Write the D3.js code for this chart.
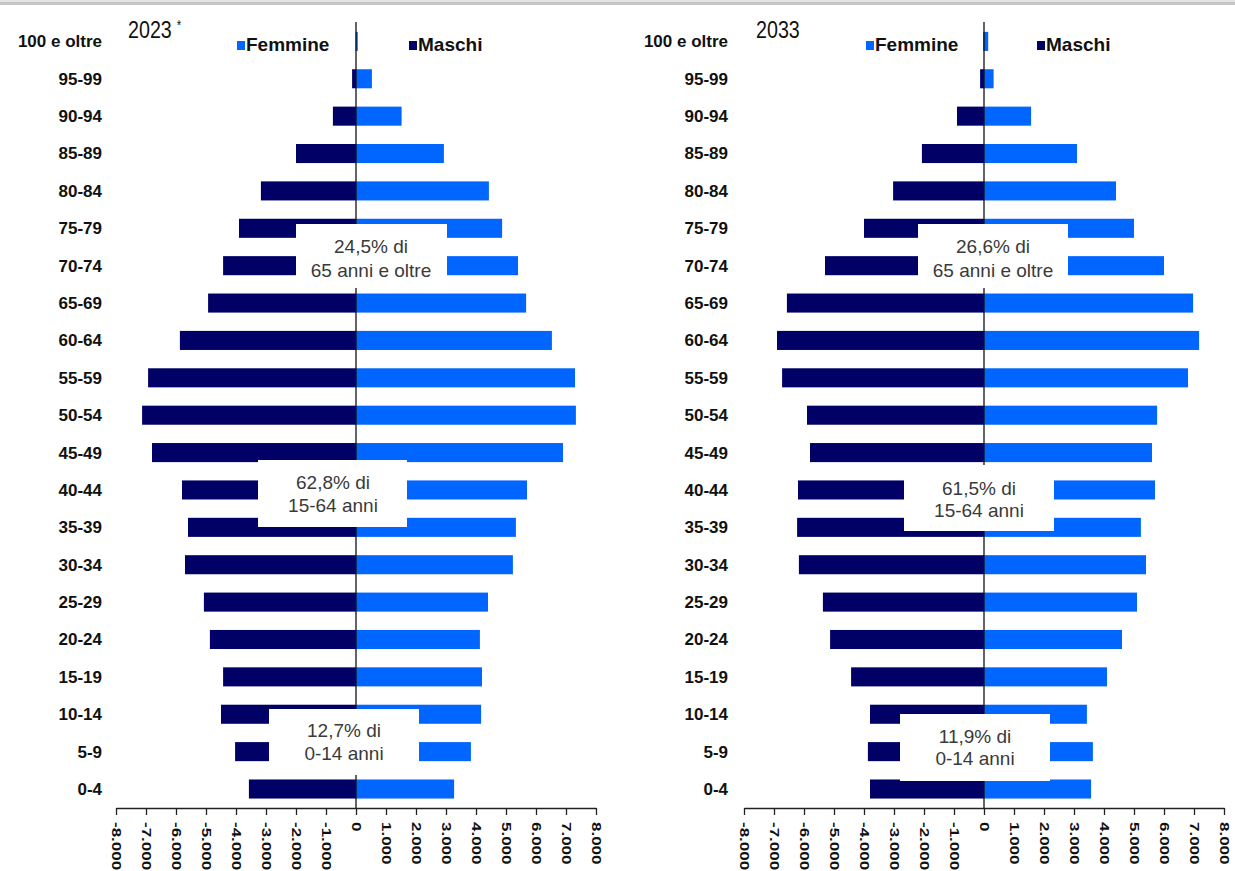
<!DOCTYPE html>
<html>
<head>
<meta charset="utf-8">
<script src="https://cdn.jsdelivr.net/npm/d3@7"></script>
<style>
  html, body { margin: 0; padding: 0; background: #ffffff; }
  svg { display: block; }
</style>
</head>
<body>
<svg id="chart" width="1235" height="871"></svg>
<script>
// ---------------- DATA ----------------
const ageGroups = ["100 e oltre","95-99","90-94","85-89","80-84","75-79","70-74","65-69","60-64","55-59",
  "50-54","45-49","40-44","35-39","30-34","25-29","20-24","15-19","10-14","5-9","0-4"];

const maschi2023  = [10, 130, 770, 2000, 3170, 3900, 4430, 4930, 5870, 6930,
  7130, 6800, 5800, 5600, 5700, 5070, 4870, 4430, 4500, 4030, 3570];
const femmine2023 = [60, 530, 1520, 2930, 4430, 4870, 5400, 5670, 6530, 7300,
  7330, 6900, 5700, 5330, 5230, 4400, 4130, 4200, 4170, 3830, 3270];

const maschi2033  = [20, 130, 900, 2070, 3030, 4000, 5300, 6570, 6900, 6730,
  5900, 5800, 6200, 6230, 6170, 5370, 5130, 4430, 3800, 3870, 3800];
const femmine2033 = [140, 320, 1570, 3100, 4400, 5000, 6000, 6970, 7170, 6800,
  5770, 5600, 5700, 5230, 5400, 5100, 4600, 4100, 3430, 3630, 3570];

const tickValues = [-8000,-7000,-6000,-5000,-4000,-3000,-2000,-1000,0,1000,2000,3000,4000,5000,6000,7000,8000];
const tickLabels = ["-8.000","-7.000","-6.000","-5.000","-4.000","-3.000","-2.000","-1.000","0",
  "1.000","2.000","3.000","4.000","5.000","6.000","7.000","8.000"];

const seriesNames = ["Femmine", "Maschi"];
const titles = ["2023", "2033"];
const titleMarks = ["*", ""];

const notes2023 = [["24,5% di","65 anni e oltre"],["62,8% di","15-64 anni"],["12,7% di","0-14 anni"]];
const notes2033 = [["26,6% di","65 anni e oltre"],["61,5% di","15-64 anni"],["11,9% di","0-14 anni"]];

// ---------------- LAYOUT / STYLE ----------------
const COL_M = "#000066";
const COL_F = "#0066ff";
const FONT = "'Liberation Sans', Arial, Helvetica, sans-serif";

const panels = [
  { title: titles[0], mark: titleMarks[0], m: maschi2023, f: femmine2023, notes: notes2023,
    x0: 116, x1: 596, labelX: 102, titleX: 128, legF: 237, legM: 409,
    boxes: [ {x:296, y:224, w:151, h:64, tx:371, ty:[246,270]},
             {x:258, y:460, w:149, h:67, tx:333, ty:[482,505]},
             {x:269, y:709, w:150, h:66, tx:344, ty:[730,753]} ] },
  { title: titles[1], mark: titleMarks[1], m: maschi2033, f: femmine2033, notes: notes2033,
    x0: 744, x1: 1224, labelX: 728, titleX: 756, legF: 866, legM: 1037,
    boxes: [ {x:918, y:224, w:150, h:64, tx:993, ty:[246,270]},
             {x:904, y:465, w:150, h:66, tx:979, ty:[488,510]},
             {x:900, y:714, w:150, h:67, tx:975, ty:[736,758]} ] }
];

const yTop = 22.7, yBottom = 807.7, axisY = 808;

const svg = d3.select("#chart");

// top gray border (screenshot frame)
svg.append("rect").attr("x",0).attr("y",0).attr("width",1235).attr("height",2).attr("fill","#e4e4e4");
svg.append("rect").attr("x",0).attr("y",2).attr("width",1235).attr("height",3).attr("fill","#c6c6c6");

const y = d3.scaleBand().domain(ageGroups).range([yTop, yBottom])
  .paddingInner(0.49).paddingOuter(0.245);

panels.forEach(p => {
  const x = d3.scaleLinear().domain([-8000, 8000]).range([p.x0, p.x1]);
  const g = svg.append("g");

  // bars - Maschi (left, negative)
  g.selectAll("rect.m").data(ageGroups).join("rect").attr("class","m")
    .attr("x", (d,i) => x(-p.m[i]))
    .attr("y", d => y(d))
    .attr("width", (d,i) => x(0) - x(-p.m[i]))
    .attr("height", y.bandwidth())
    .attr("fill", COL_M);
  // bars - Femmine (right, positive)
  g.selectAll("rect.f").data(ageGroups).join("rect").attr("class","f")
    .attr("x", x(0))
    .attr("y", d => y(d))
    .attr("width", (d,i) => x(p.f[i]) - x(0))
    .attr("height", y.bandwidth())
    .attr("fill", COL_F);

  // center vertical line
  g.append("line").attr("x1", x(0)).attr("x2", x(0)).attr("y1", 22).attr("y2", axisY)
    .attr("stroke", "#111").attr("stroke-width", 1.3);

  // annotation boxes
  p.boxes.forEach((b, k) => {
    g.append("rect").attr("x", b.x).attr("y", b.y).attr("width", b.w).attr("height", b.h)
      .attr("fill", "#ffffff");
    p.notes[k].forEach((line, j) => {
      g.append("text").attr("x", b.tx).attr("y", b.ty[j]).attr("dy", "0.35em")
        .attr("text-anchor", "middle")
        .attr("font-family", FONT).attr("font-size", 19).attr("fill", "#3a3a3a")
        .text(line);
    });
  });

  // x axis
  const xAxis = d3.axisBottom(x).tickValues(tickValues)
    .tickFormat((d,i) => tickLabels[i]).tickSize(7).tickSizeOuter(0);
  const ax = g.append("g").attr("transform", `translate(0,${axisY})`).call(xAxis);
  ax.select(".domain").attr("stroke", "#222").attr("stroke-width", 1.3);
  ax.selectAll(".tick line").attr("stroke", "#222").attr("stroke-width", 1.3);
  ax.selectAll(".tick text")
    .attr("x", 0).attr("y", 0).attr("dy", "0.36em")
    .attr("text-anchor", "start")
    .attr("transform", "translate(0,14) scale(0.75,1) rotate(90)")
    .attr("font-family", FONT).attr("font-size", 17).attr("font-weight", "bold")
    .attr("fill", "#111");

  // y axis category labels
  const yAxis = d3.axisLeft(y).tickSize(0).tickPadding(0);
  const ay = g.append("g").attr("transform", `translate(${p.labelX},0)`).call(yAxis);
  ay.select(".domain").remove();
  ay.selectAll(".tick text")
    .attr("font-family", FONT).attr("font-size", 17).attr("font-weight", "bold")
    .attr("fill", "#111").attr("dy", "0.35em");

  // title
  const t = g.append("text").attr("transform", `translate(${p.titleX},38) scale(0.82,1)`)
    .attr("font-family", FONT).attr("font-size", 24).attr("fill", "#111");
  t.append("tspan").text(p.title);
  if (p.mark) {
    t.append("tspan").attr("dx", 6).attr("dy", -8).attr("font-size", 14).text(p.mark);
  }

  // legend
  const leg = [ {name: seriesNames[0], col: COL_F, x: p.legF}, {name: seriesNames[1], col: COL_M, x: p.legM} ];
  leg.forEach(l => {
    g.append("rect").attr("x", l.x).attr("y", 41).attr("width", 8).attr("height", 9).attr("fill", l.col);
    g.append("text").attr("x", l.x + 9).attr("y", 51)
      .attr("font-family", FONT).attr("font-size", 19).attr("font-weight", "bold")
      .attr("fill", "#111").text(l.name);
  });
});
</script>
</body>
</html>
